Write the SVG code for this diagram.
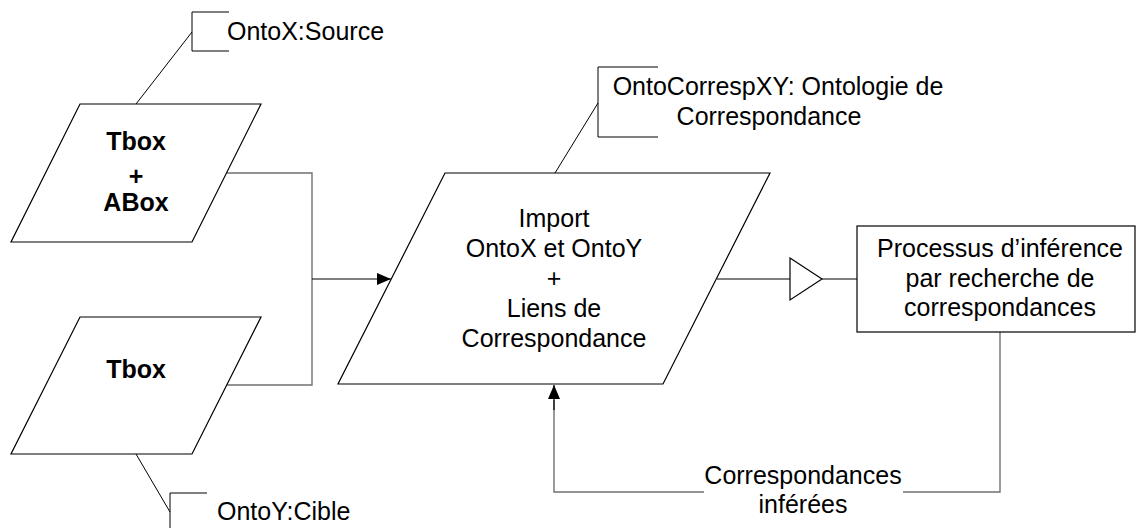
<svg xmlns="http://www.w3.org/2000/svg" width="1137" height="528" viewBox="0 0 1137 528">
<defs>
<style>
.shape{fill:#fff;stroke:#000;stroke-width:1.2}
.call{fill:none;stroke:#000;stroke-width:1}
.conn{fill:none;stroke:#707070;stroke-width:1.4}
.arr{fill:none;stroke:#000;stroke-width:1.2}
text{font-family:"Liberation Sans",Arial,sans-serif;font-size:25px;fill:#000}
.b{font-weight:bold}
.m{text-anchor:middle}
</style>
<marker id="ah" viewBox="0 0 14 12" refX="14" refY="6" markerWidth="14" markerHeight="12" markerUnits="userSpaceOnUse" orient="auto" preserveAspectRatio="none">
<path d="M0,0 L14,6 L0,12 Z" fill="#000"/>
</marker>
</defs>
<g id="connectors">
<polyline class="conn" points="227,173 312,173 312,385 227,385"/>
<line class="arr" x1="312" y1="279" x2="391" y2="279" marker-end="url(#ah)"/>
<line class="arr" x1="717" y1="279" x2="790" y2="279"/>
<polygon points="790,258 822,279 790,300" fill="#fff" stroke="#000" stroke-width="1.2"/>
<line class="arr" x1="822" y1="279" x2="857" y2="279"/>
<polyline class="conn" points="1000,332 1000,492 903,492"/>
<polyline class="conn" points="704,492 554,492 554,400"/>
<line class="arr" x1="554" y1="410" x2="554" y2="385" marker-end="url(#ah)"/>
<text class="m" x="803" y="484">Correspondances</text>
<text class="m" x="803" y="513">inférées</text>
</g>
<g id="tbox-abox">
<polygon class="shape" points="80,104 261,104 192,242 11,242"/>
<text class="m b" x="136" y="150">Tbox</text>
<text class="m b" x="136" y="185">+</text>
<text class="m b" x="136" y="211">ABox</text>
</g>
<g id="ontox-source">
<line class="call" x1="136" y1="104" x2="192" y2="32"/>
<polyline class="call" points="229,12 192,12 192,51 229,51"/>
<text x="227" y="40">OntoX:Source</text>
</g>
<g id="tbox">
<polygon class="shape" points="80,317 261,317 192,454 11,454"/>
<text class="m b" x="136" y="378">Tbox</text>
</g>
<g id="ontoy-cible">
<line class="call" x1="136" y1="454" x2="170" y2="512"/>
<polyline class="call" points="207,493 170,493 170,535"/>
<text x="217" y="520">OntoY:Cible</text>
</g>
<g id="import">
<polygon class="shape" points="445,173 770,173 663,384 338,384"/>
<text class="m" x="554" y="227">Import</text>
<text class="m" x="554" y="257">OntoX et OntoY</text>
<text class="m" x="554" y="287">+</text>
<text class="m" x="554" y="317">Liens de</text>
<text class="m" x="554" y="347">Correspondance</text>
</g>
<g id="ontocorresp">
<line class="call" x1="555" y1="173" x2="598" y2="103"/>
<polyline class="call" points="658,67 598,67 598,137 658,137"/>
<text class="m" x="778" y="95">OntoCorrespXY: Ontologie de</text>
<text class="m" x="769" y="125">Correspondance</text>
</g>
<g id="processus">
<rect class="shape" x="857" y="226" width="278" height="106"/>
<text class="m" x="1000" y="257">Processus d’inférence</text>
<text class="m" x="1000" y="287">par recherche de</text>
<text class="m" x="1000" y="316">correspondances</text>
</g>
</svg>
